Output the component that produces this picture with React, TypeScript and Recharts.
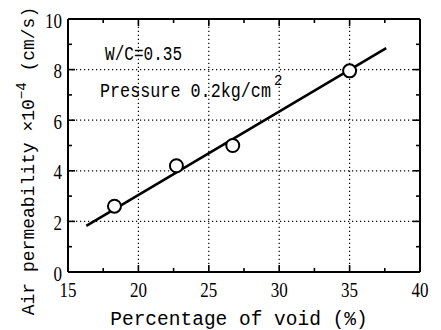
import React from "react";
import {
  ComposedChart,
  Line,
  Scatter,
  XAxis,
  YAxis,
  ReferenceLine,
  ReferenceDot,
  Customized,
} from "recharts";

// measured points
const voidPct = [18.3, 22.7, 26.7, 35.0];
const permeability = [2.6, 4.2, 5.0, 7.95];

// fitted line ends
const fitVoid = [16.3, 37.6];
const fitPerm = [1.82, 8.85];

const xTicks = [15, 17.5, 20, 22.5, 25, 27.5, 30, 32.5, 35, 37.5, 40];
const yTicks = [0, 1, 2, 3, 4, 5, 6, 7, 8, 9, 10];
const xGrid = [20, 25, 30, 35];
const yGrid = [2, 4, 6, 8];

const points = voidPct.map((v, i) => ({ x: v, y: permeability[i] }));
const fit = fitVoid.map((v, i) => ({ x: v, y: fitPerm[i] }));

const serif = "Liberation Serif";
const mono = "Liberation Mono";

const isMajorX = (v: number) => v % 5 === 0;
const isMajorY = (v: number) => v % 2 === 0;

// inward tick marks + labels, drawn at the scaled position of each tick value
const tickMark = (side: string, value: number, major: boolean) => (p: any) => {
  const len = major ? 7 : 4;
  const { cx, cy } = p;
  const label = String(value);
  if (side === "bottom")
    return (
      <g>
        <line x1={cx} x2={cx} y1={cy} y2={cy - len} stroke="#000" strokeWidth={1.6} />
        {major && (
          <text x={cx} y={cy + 25} textAnchor="middle" fill="#000" fontFamily={serif} fontSize={22}
            textLength={17} lengthAdjust="spacingAndGlyphs">
            {label}
          </text>
        )}
      </g>
    );
  if (side === "top") return <line x1={cx} x2={cx} y1={cy} y2={cy + len} stroke="#000" strokeWidth={1.6} />;
  if (side === "left")
    return (
      <g>
        <line x1={cx} x2={cx + len} y1={cy} y2={cy} stroke="#000" strokeWidth={1.6} />
        {major && (
          <text x={cx - 6} y={cy + 8.5} textAnchor="end" fill="#000" fontFamily={serif} fontSize={22}
            textLength={label.length * 8.5} lengthAdjust="spacingAndGlyphs">
            {label}
          </text>
        )}
      </g>
    );
  return <line x1={cx} x2={cx - len} y1={cy} y2={cy} stroke="#000" strokeWidth={1.6} />;
};

function openCircle({ cx, cy }: any) {
  return <circle cx={cx} cy={cy} r={6.5} fill="#fff" stroke="#000" strokeWidth={2} />;
}

function Texts() {
  return (
    <g>
      <text x={105} y={60} fill="#000" fontFamily={mono} fontSize={20} textLength={77} lengthAdjust="spacingAndGlyphs">
        W/C=0.35
      </text>
      <text x={100} y={97} fill="#000" fontFamily={mono} fontSize={21} textLength={171} lengthAdjust="spacingAndGlyphs">
        Pressure 0.2kg/cm
      </text>
      <text x={274} y={85} fill="#000" fontFamily={mono} fontSize={14}>
        2
      </text>
      <text x={239} y={325} fill="#000" textAnchor="middle" fontFamily={mono} fontSize={19.5}>
        Percentage of void (%)
      </text>
      <text
        x={0}
        y={0}
        fill="#000"
        transform="translate(34,161) rotate(-90)"
        textAnchor="middle"
        fontFamily={mono}
        fontSize={18}
      >
        Air permeability ×10
        <tspan dy={-8} fontSize={14}>−4</tspan>
        <tspan dy={8}> (cm/s)</tspan>
      </text>
    </g>
  );
}

export default function App() {
  const frame = { stroke: "#000", strokeWidth: 2 };
  return (
    <div style={{ position: "absolute", left: 0, top: 0 }}>
      <ComposedChart width={441} height={330} margin={{ top: 19, right: 21, bottom: 58, left: 68 }}>
        <XAxis xAxisId="b" dataKey="x" type="number" domain={[15, 40]} hide />
        <YAxis yAxisId="l" type="number" domain={[0, 10]} hide />
        {xGrid.map((v) => (
          <ReferenceLine key={"gx" + v} x={v} xAxisId="b" yAxisId="l" stroke="#000" strokeWidth={1.2} strokeDasharray="1.2 2.8" />
        ))}
        {yGrid.map((v) => (
          <ReferenceLine key={"gy" + v} y={v} xAxisId="b" yAxisId="l" stroke="#000" strokeWidth={1.2} strokeDasharray="1.2 2.8" />
        ))}
        <ReferenceLine x={15} xAxisId="b" yAxisId="l" {...frame} />
        <ReferenceLine x={40} xAxisId="b" yAxisId="l" {...frame} />
        <ReferenceLine y={0} xAxisId="b" yAxisId="l" {...frame} />
        <ReferenceLine y={10} xAxisId="b" yAxisId="l" {...frame} />
        {xTicks.map((v) => (
          <ReferenceDot key={"tb" + v} x={v} y={0} r={0} xAxisId="b" yAxisId="l" shape={tickMark("bottom", v, isMajorX(v))} />
        ))}
        {xTicks.map((v) => (
          <ReferenceDot key={"tt" + v} x={v} y={10} r={0} xAxisId="b" yAxisId="l" shape={tickMark("top", v, isMajorX(v))} />
        ))}
        {yTicks.map((v) => (
          <ReferenceDot key={"tl" + v} x={15} y={v} r={0} xAxisId="b" yAxisId="l" shape={tickMark("left", v, isMajorY(v))} />
        ))}
        {yTicks.map((v) => (
          <ReferenceDot key={"tr" + v} x={40} y={v} r={0} xAxisId="b" yAxisId="l" shape={tickMark("right", v, isMajorY(v))} />
        ))}
        <Line
          data={fit}
          xAxisId="b"
          yAxisId="l"
          dataKey="y"
          type="linear"
          stroke="#000"
          strokeWidth={2.6}
          dot={false}
          activeDot={false}
          isAnimationActive={false}
        />
        <Scatter
          data={points}
          xAxisId="b"
          yAxisId="l"
          dataKey="y"
          shape={openCircle}
          isAnimationActive={false}
        />
        <Customized component={<Texts />} />
      </ComposedChart>
    </div>
  );
}
